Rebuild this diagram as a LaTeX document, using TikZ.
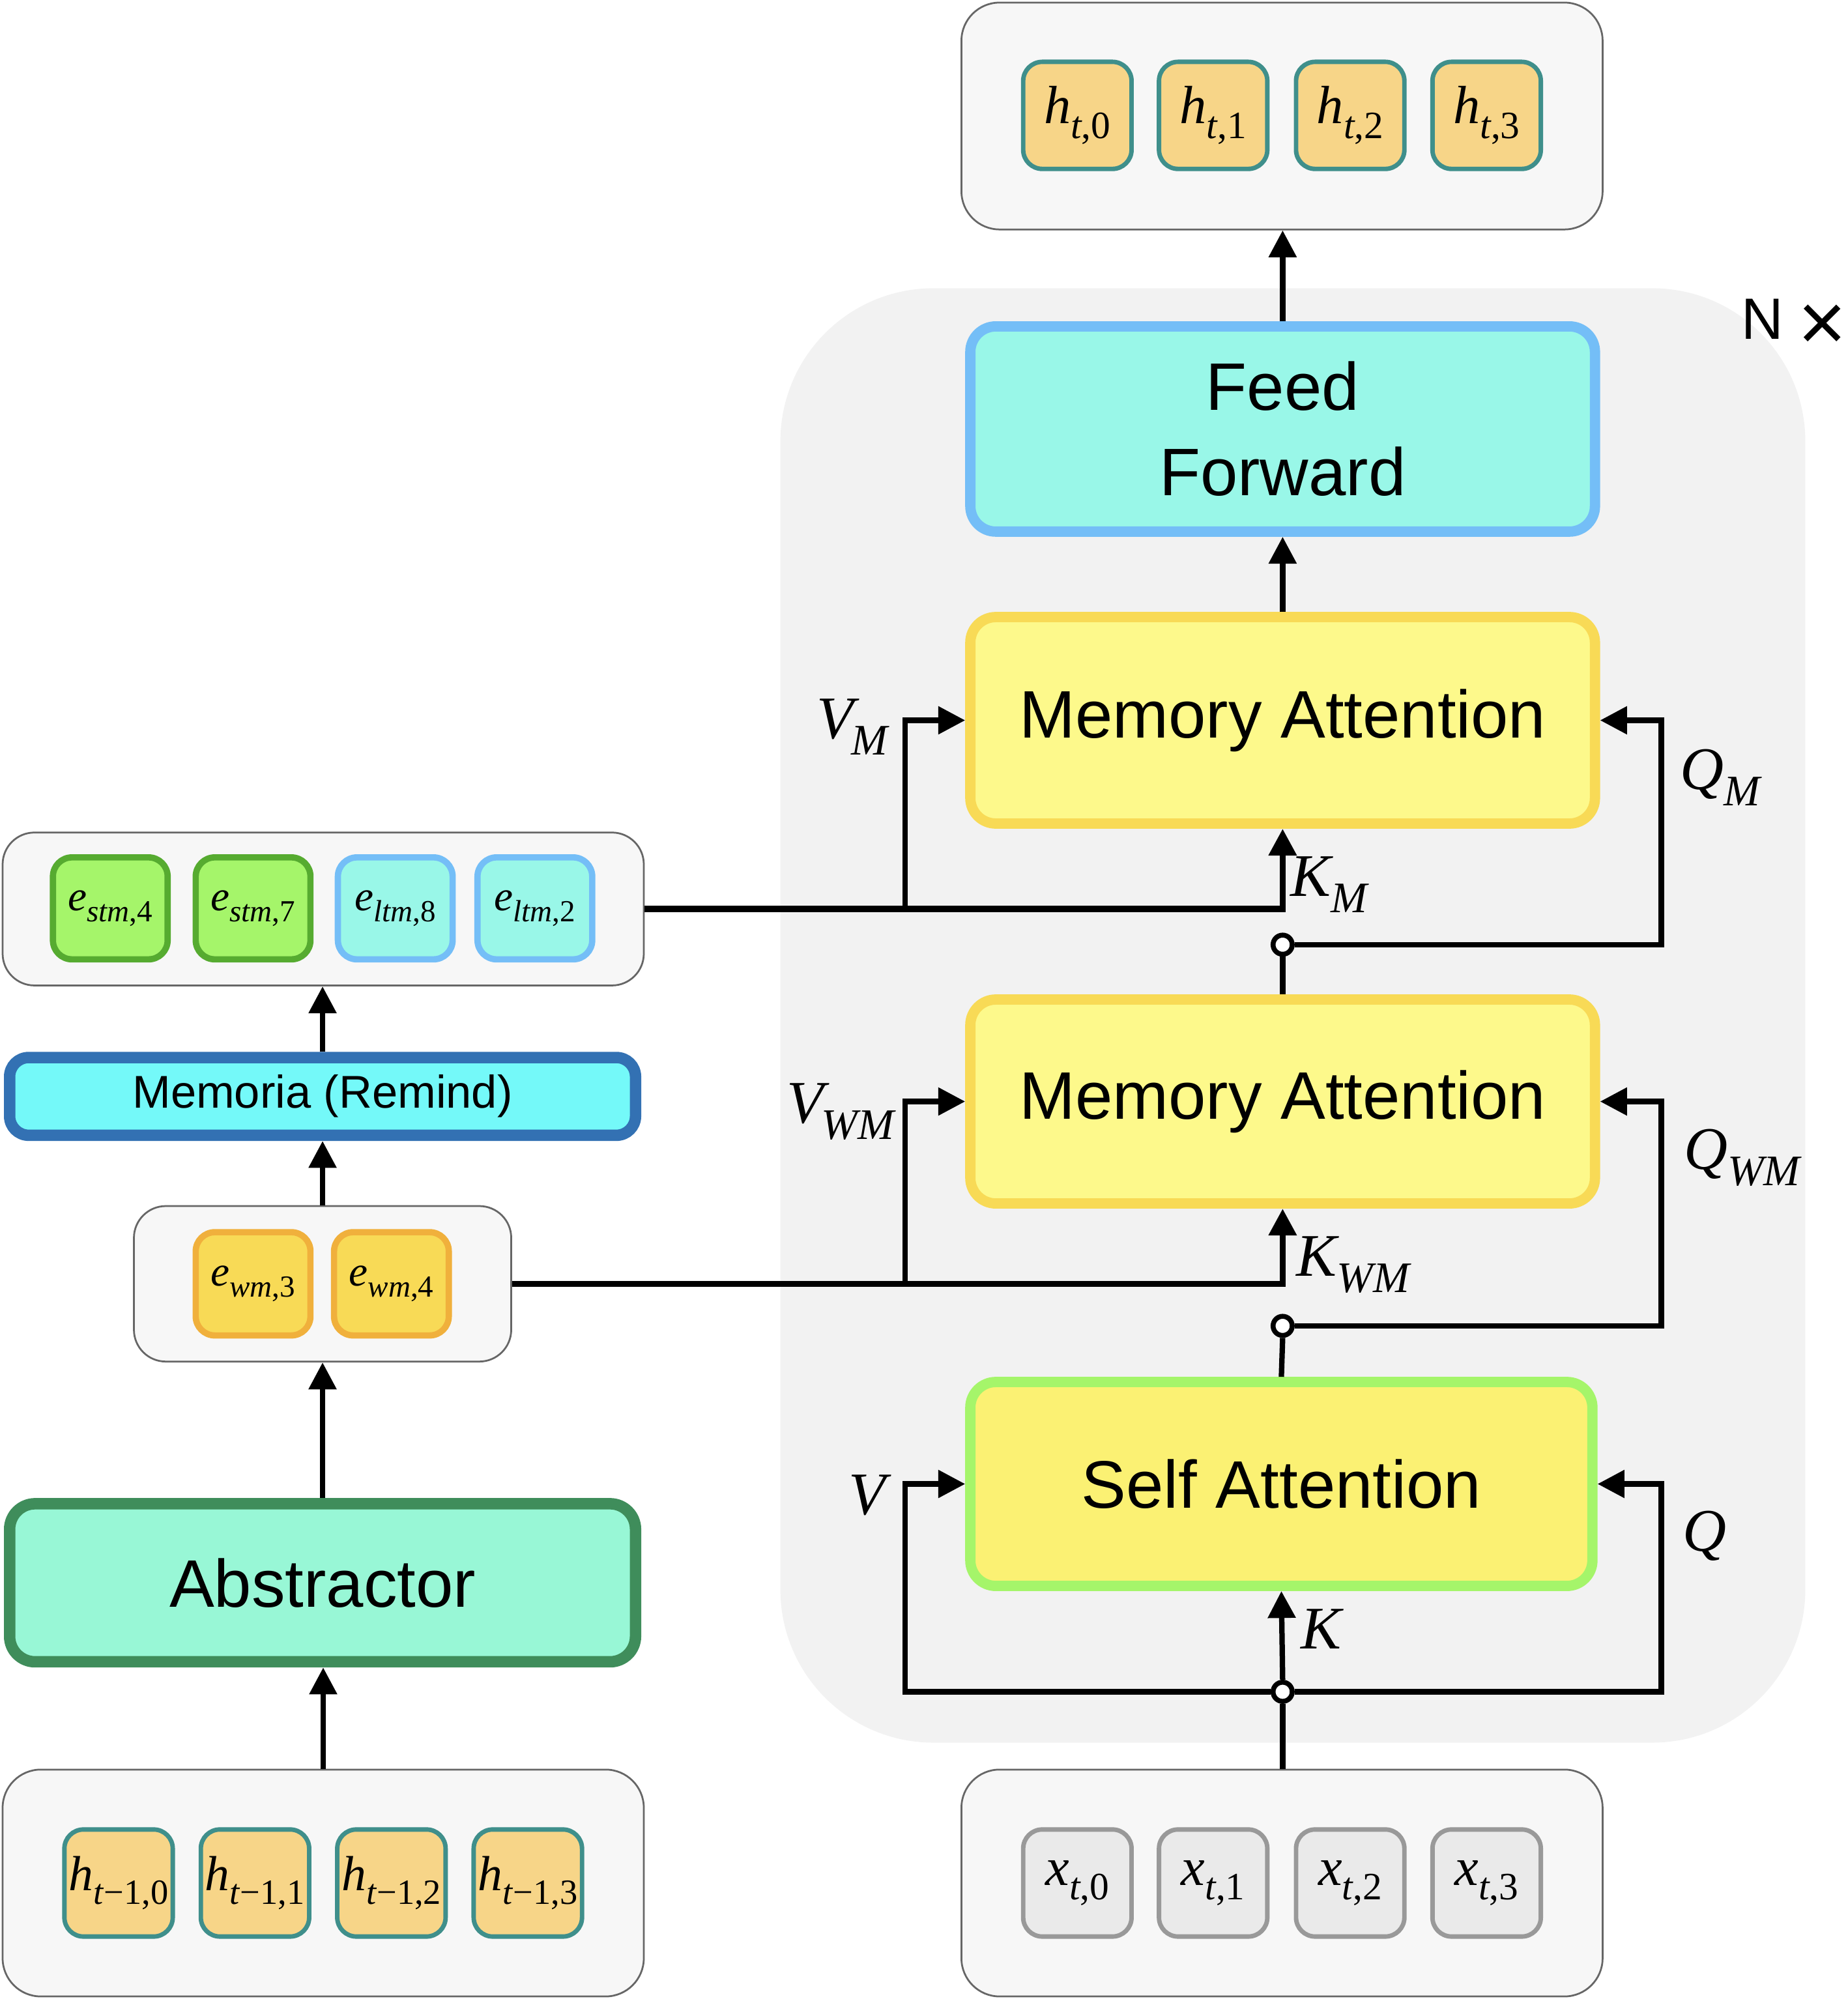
\RequirePackage{fix-cm}
\documentclass[tikz,border=0pt]{standalone}
\usepackage[no-math]{fontspec}
\setmainfont{Liberation Sans}
\newfontfamily\tms{Liberation Serif}
\usetikzlibrary{arrows.meta}
\makeatletter
\newcommand\lab[2]{{\tms{\itshape #1}\raisebox{-0.27em}{\fontsize{\the\dimexpr0.72\dimexpr\f@size pt\relax\relax}{1pt}\selectfont #2}}}
\makeatother
\definecolor{bigbg}{HTML}{F2F2F2}
\definecolor{boxbg}{HTML}{F7F7F7}
\definecolor{boxline}{HTML}{666666}
\definecolor{hfill}{HTML}{F7D588}
\definecolor{hline}{HTML}{3F8F8B}
\definecolor{xfill}{HTML}{EAEAEA}
\definecolor{xline}{HTML}{999999}
\definecolor{stmfill}{HTML}{A5F56A}
\definecolor{stmline}{HTML}{56AB30}
\definecolor{ltmfill}{HTML}{99F7E8}
\definecolor{ltmline}{HTML}{74BEF7}
\definecolor{wmfill}{HTML}{F8DA56}
\definecolor{wmline}{HTML}{F0B03C}
\definecolor{mafill}{HTML}{FDF98B}
\definecolor{maline}{HTML}{F8DA56}
\definecolor{safill}{HTML}{FBF173}
\definecolor{saline}{HTML}{A5F56A}
\definecolor{absfill}{HTML}{98F7D6}
\definecolor{absline}{HTML}{3F8D5B}
\definecolor{memfill}{HTML}{74F9F9}
\definecolor{memline}{HTML}{3371B3}
\begin{document}
\begin{tikzpicture}[x=0.02cm,y=-0.02cm,
  conn/.style={line width=2.4pt},
  arr/.style={conn,-{Triangle[length=12pt,width=12pt]}},
  holder/.style={draw=boxline,line width=0.8pt,fill=boxbg,rounded corners=0.6cm,
    minimum width=10.06cm,minimum height=3.56cm,inner sep=0pt},
  cell/.style={rounded corners=0.3cm,minimum width=1.70cm,minimum height=1.68cm,
    inner sep=0pt,line width=2pt},
  hcell/.style={cell,draw=hline,fill=hfill,font=\fontsize{24}{28}\selectfont},
  pcell/.style={cell,draw=hline,fill=hfill,font=\fontsize{22}{26}\selectfont},
  xcell/.style={cell,draw=xline,fill=xfill,font=\fontsize{24}{28}\selectfont},
  ecell/.style={cell,line width=2.8pt,minimum width=1.80cm,minimum height=1.60cm,
    font=\fontsize{19}{22}\selectfont},
  big/.style={rounded corners=0.4cm,line width=4.6pt,inner sep=0pt,
    minimum width=9.8cm,minimum height=3.22cm,align=center,
    font=\fontsize{30}{38}\selectfont},
  junc/.style={circle,draw,fill=white,line width=2.2pt,minimum size=0.3cm,inner sep=0pt},
  lbl/.style={inner sep=0pt,font=\fontsize{27}{30}\selectfont}]
\useasboundingbox (0,0) rectangle (1449,1568);

% repeated block background
\node[fill=bigbg,rounded corners=2.4cm,minimum width=16.08cm,minimum height=22.82cm,inner sep=0pt] (blk) at (1014,796.5) {};
\node[font=\fontsize{26}{28}\selectfont,inner sep=0pt] (nx) at (1407,255) {N\hspace{0.25em}\raisebox{-0.2em}{\fontsize{37}{37}\selectfont ×}};

% output h_t
\node[holder] (hout) at (1005.5,91) {};
\node[hcell] (ho0) at (845,90.5) {\lab{h}{\textit{t},0}};
\node[hcell] (ho1) at (951.5,90.5) {\lab{h}{\textit{t},1}};
\node[hcell] (ho2) at (1059,90.5) {\lab{h}{\textit{t},2}};
\node[hcell] (ho3) at (1166,90.5) {\lab{h}{\textit{t},3}};

% input x_t
\node[holder] (xin) at (1005.5,1477) {};
\node[xcell] (x0) at (845,1477) {\lab{x}{\textit{t},0}};
\node[xcell] (x1) at (951.5,1477) {\lab{x}{\textit{t},1}};
\node[xcell] (x2) at (1059,1477) {\lab{x}{\textit{t},2}};
\node[xcell] (x3) at (1166,1477) {\lab{x}{\textit{t},3}};

% previous h_{t-1}
\node[holder] (hprev) at (253.5,1477) {};
\node[pcell] (hp0) at (93,1477) {\lab{h}{\textit{t}−1,0}};
\node[pcell] (hp1) at (200,1477) {\lab{h}{\textit{t}−1,1}};
\node[pcell] (hp2) at (307,1477) {\lab{h}{\textit{t}−1,2}};
\node[pcell] (hp3) at (414,1477) {\lab{h}{\textit{t}−1,3}};

% memory elements
\node[holder,rounded corners=0.5cm,minimum height=2.40cm] (ebox) at (253.5,713) {};
\node[ecell,draw=stmline,fill=stmfill] (es4) at (86.5,712.5) {\lab{e}{\textit{stm},4}};
\node[ecell,draw=stmline,fill=stmfill] (es7) at (198.5,712.5) {\lab{e}{\textit{stm},7}};
\node[ecell,draw=ltmline,fill=ltmfill] (el8) at (310,712.5) {\lab{e}{\textit{ltm},8}};
\node[ecell,draw=ltmline,fill=ltmfill] (el2) at (419.5,712.5) {\lab{e}{\textit{ltm},2}};

\node[holder,rounded corners=0.5cm,minimum width=5.92cm,minimum height=2.44cm] (wmbox) at (253,1007) {};
\node[ecell,draw=wmline,fill=wmfill,minimum height=1.62cm] (ew3) at (198.5,1007) {\lab{e}{\textit{wm},3}};
\node[ecell,draw=wmline,fill=wmfill,minimum height=1.62cm] (ew4) at (307,1007) {\lab{e}{\textit{wm},4}};

% left modules
\node[big,draw=absline,fill=absfill,line width=5.1pt,minimum width=9.82cm,minimum height=2.48cm] (abs) at (253,1241.5) {Abstractor};
\node[big,draw=memline,fill=memfill,line width=5.1pt,rounded corners=0.3cm,minimum width=9.82cm,minimum height=1.22cm,font=\fontsize{20.5}{24}\selectfont] (mem) at (253,860) {Memoria (Remind)};

% right modules
\node[big,draw=ltmline,fill=ltmfill] (ff) at (1006,336.5) {Feed\\Forward};
\node[big,draw=maline,fill=mafill,minimum height=3.24cm] (ma1) at (1006,565) {Memory Attention};
\node[big,draw=maline,fill=mafill,minimum height=3.2cm] (ma2) at (1006,864) {Memory Attention};
\node[big,draw=saline,fill=safill,minimum width=9.76cm,minimum height=3.2cm] (sa) at (1005,1164) {Self Attention};

% junctions
\node[junc] (c1) at (1006,741) {};
\node[junc] (c2) at (1006,1040) {};
\node[junc] (c3) at (1006,1327) {};
\coordinate (vmj) at (710,713);
\coordinate (qmj) at (1303,741);
\coordinate (vwmj) at (710,1007);
\coordinate (qwmj) at (1303,1040);
\coordinate (vj) at (710,1327);
\coordinate (qj) at (1303,1327);

% left column connectors
\draw[arr] (hprev.north) -- (hprev.north |- abs.south);
\draw[arr] (abs.north) -- (abs.north |- wmbox.south);
\draw[arr] (wmbox.north) -- (wmbox.north |- mem.south);
\draw[arr] (mem.north) -- (mem.north |- ebox.south);

% self attention
\draw[conn] (c3.south) -- (c3.south |- xin.north);
\draw[arr] (c3.north) -- (sa.south);
\draw[arr] (c3.west) -- (vj) |- (sa.west);
\draw[arr] (c3.east) -- (qj) |- (sa.east);
\draw[conn] (sa.north) -- (c2.south);

% memory attention (WM)
\draw[arr,line width=2.8pt] (wmbox.east) -| (ma2.south);
\draw[arr] (vwmj) |- (ma2.west);
\draw[arr] (c2.east) -- (qwmj) |- (ma2.east);
\draw[conn] (ma2.north) -- (c1.south);

% memory attention (M)
\draw[arr,line width=2.8pt] (ebox.east) -| (ma1.south);
\draw[arr] (vmj) |- (ma1.west);
\draw[arr] (c1.east) -- (qmj) |- (ma1.east);

% top
\draw[arr] (ma1.north) -- (ff.south);
\draw[arr] (ff.north) -- (ff.north |- hout.south);

% labels
\node[lbl] (lvm) at (669,570) {\lab{V\kern-0.04em}{\textit{M}}};
\node[lbl] (lkm) at (1043,694) {\lab{K}{\textit{M}}};
\node[lbl] (lqm) at (1350,610) {\lab{Q}{\textit{M}}};
\node[lbl] (lvwm) at (660,872) {\lab{V\kern-0.04em}{\textit{WM}}};
\node[lbl] (lkwm) at (1062,992) {\lab{K}{\textit{WM}}};
\node[lbl] (lqwm) at (1367,908) {\lab{Q}{\textit{WM}}};
\node[lbl] (lv) at (680,1173) {{\tms\itshape V}};
\node[lbl] (lk) at (1036,1278) {{\tms\itshape K}};
\node[lbl] (lq) at (1337,1205) {{\tms\itshape Q}};
\end{tikzpicture}
\end{document}
